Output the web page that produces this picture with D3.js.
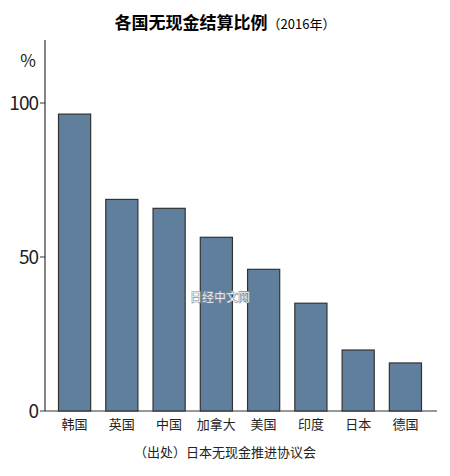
<!DOCTYPE html>
<html><head><meta charset="utf-8">
<script src="https://cdn.jsdelivr.net/npm/d3@7"></script>
<style>body{margin:0;background:#fff}</style>
</head><body><div id="chart"></div>
<script>
const countries = ["韩国", "英国", "中国", "加拿大", "美国", "印度", "日本", "德国"]
const values = [96.4, 68.7, 65.8, 56.4, 46.0, 35.0, 19.8, 15.6]
const yTicks = [0, 50, 100]

const width = 450, height = 476
const font = "'Noto Sans CJK SC', 'Noto Sans', sans-serif"

const svg = d3.select("#chart").append("svg")
    .attr("width", width).attr("height", height)

const x = d3.scaleBand().domain(countries).range([50, 430]).paddingInner(0.32).paddingOuter(0.18)
const y = d3.scaleLinear().domain([0, 100]).range([411, 103])

svg.append("text").attr("x", 225).attr("y", 29).attr("text-anchor", "middle")
    .style("font-family", font).style("font-size", "17px").style("font-weight", "bold")
    .text("各国无现金结算比例")
    .append("tspan").style("font-size", "13px").style("font-weight", "normal").text("（2016年）")

svg.append("line").attr("x1", 45).attr("x2", 45).attr("y1", 40).attr("y2", 411)
    .attr("stroke", "#333").attr("stroke-width", 1.2)
svg.append("line").attr("x1", 45).attr("x2", 437).attr("y1", 411).attr("y2", 411)
    .attr("stroke", "#333").attr("stroke-width", 1.2)

yTicks.forEach(t => {
    svg.append("line").attr("x1", 40).attr("x2", 45).attr("y1", y(t)).attr("y2", y(t))
        .attr("stroke", "#333")
    svg.append("text").attr("x", 38).attr("y", y(t) + 7).attr("text-anchor", "end")
        .style("font-family", font).style("font-size", "19px").style("letter-spacing", "-1px")
        .attr("fill", "#222").text(t)
})
svg.append("text").attr("x", 28).attr("y", 67).attr("text-anchor", "middle")
    .style("font-family", font).style("font-size", "17px").attr("fill", "#222").text("%")

svg.selectAll("rect.bar").data(values).enter().append("rect")
    .attr("x", (d, i) => x(countries[i]))
    .attr("y", d => y(d))
    .attr("width", x.bandwidth())
    .attr("height", d => y(0) - y(d))
    .attr("fill", "#5f7f9c").attr("stroke", "#333").attr("stroke-width", 1.2)

svg.selectAll("text.cat").data(countries).enter().append("text")
    .attr("x", d => x(d) + x.bandwidth() / 2).attr("y", 429).attr("text-anchor", "middle")
    .style("font-family", font).style("font-size", "13px").attr("fill", "#222").text(d => d)

svg.append("text").attr("x", 225).attr("y", 457).attr("text-anchor", "middle")
    .style("font-family", font).style("font-size", "13px").attr("fill", "#222")
    .text("（出处）日本无现金推进协议会")

svg.append("text").attr("x", 220).attr("y", 302).attr("text-anchor", "middle")
    .style("font-family", font).style("font-size", "12px").style("font-weight", "bold")
    .attr("fill", "#fff").attr("stroke", "#7a8fa8").attr("stroke-width", 0.6)
    .text("日经中文网")
</script></body></html>
